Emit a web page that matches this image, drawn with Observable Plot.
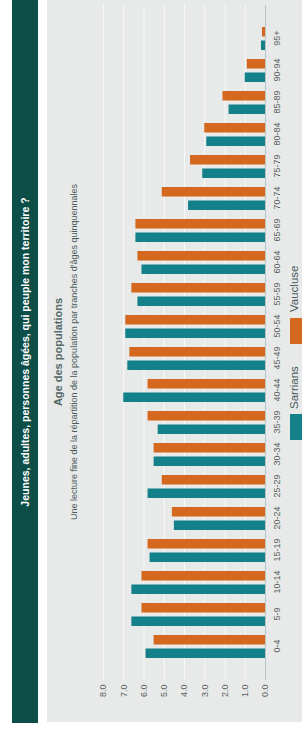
<!DOCTYPE html>
<html>
<head>
<meta charset="utf-8">
<script src="https://cdn.jsdelivr.net/npm/d3@7"></script>
<script src="https://cdn.jsdelivr.net/npm/@observablehq/plot@0.6"></script>
<style>
  html, body { margin: 0; padding: 0; background: #fff; overflow: hidden; width: 302px; height: 736px; }
  #page {
    position: absolute; left: 0; top: 0; width: 736px; height: 302px;
    transform-origin: 0 0; transform: translate(0px, 736px) rotate(-90deg);
    font-family: "Liberation Sans", Arial, sans-serif; background: #fff;
  }
  #band { position: absolute; left: 13px; top: 12px; width: 723px; height: 26px; background: #0e4e48; }
  #title { position: absolute; left: 184px; width: 400px; top: 12px; height: 26px; line-height: 26px;
    text-align: center; color: #fff; font-weight: bold; font-size: 10.5px; white-space: nowrap; }
  #panel { position: absolute; left: 14px; top: 47px; width: 722px; height: 255px; background: #e7eae8; }
  #chartTitle { position: absolute; left: 234px; width: 300px; top: 52px; text-align: center;
    font-size: 11px; font-weight: bold; color: #56676a; white-space: nowrap; }
  #subtitle { position: absolute; left: 134px; width: 500px; top: 69px; text-align: center;
    font-size: 9px; color: #4e5a5c; white-space: nowrap; }
  #chart { position: absolute; left: 0; top: 88px; width: 736px; }
  .sw { position: absolute; top: 290px; width: 26px; height: 12px; }
  .lt { position: absolute; top: 288px; font-size: 11.5px; color: #4e5a5c; white-space: nowrap; line-height: 13px; }
</style>
</head>
<body>
<div id="page">
  <div id="band"></div>
  <div id="title">Jeunes, adultes, personnes âgées, qui peuple mon territoire ?</div>
  <div id="panel"></div>
  <div id="chartTitle">Age des populations</div>
  <div id="subtitle">Une lecture fine de la répartition de la population par tranches d'âges quinquennales</div>
  <div id="chart"></div>
  <div id="legend"></div>
</div>
<script>
const ages = ["0-4","5-9","10-14","15-19","20-24","25-29","30-34","35-39","40-44","45-49",
              "50-54","55-59","60-64","65-69","70-74","75-79","80-84","85-89","90-94","95+"];
const series = ["Sarrians", "Vaucluse"];
const sarrians = [5.9, 6.6, 6.6, 5.7, 4.5, 5.8, 5.5, 5.3, 7.0, 6.8, 6.9, 6.3, 6.1, 6.4, 3.8, 3.1, 2.9, 1.8, 1.0, 0.2];
const vaucluse = [5.5, 6.1, 6.1, 5.8, 4.6, 5.1, 5.5, 5.8, 5.8, 6.7, 6.9, 6.6, 6.3, 6.4, 5.1, 3.7, 3.0, 2.1, 0.9, 0.15];
const valueTicks = [0, 1, 2, 3, 4, 5, 6, 7, 8];
const seriesColors = ["#13808a", "#d4681f"];

const rows = ages.flatMap((a, i) => [
  {age: a, series: series[0], value: sarrians[i]},
  {age: a, series: series[1], value: vaucluse[i]}
]);

const chart = Plot.plot({
  width: 736,
  height: 200,
  marginTop: 15,
  marginBottom: 23,
  marginLeft: 56,
  marginRight: 5,
  style: {background: "transparent", fontFamily: "'Liberation Sans', Arial, sans-serif", fontSize: "9px", color: "#5a5f60", maxWidth: "none"},
  x: {domain: ages, paddingInner: 0.27, paddingOuter: 0.395, label: null, tickSize: 0, tickPadding: 8},
  y: {domain: [0, 8], ticks: valueTicks, tickFormat: d => d.toFixed(1), label: null, tickSize: 0, tickPadding: 5},
  color: {domain: series, range: seriesColors},
  marks: [
    Plot.gridY(valueTicks, {stroke: "#ffffff", strokeOpacity: 0.7}),
    Plot.barY(rows, {filter: d => d.series === series[0], x: "age", y: "value", fill: "series", insetRight: 13.5}),
    Plot.barY(rows, {filter: d => d.series === series[1], x: "age", y: "value", fill: "series", insetLeft: 13.5}),
    Plot.ruleY([0], {stroke: "#b7c3c6"})
  ]
});
document.getElementById("chart").appendChild(chart);

const legend = document.getElementById("legend");
const legendPos = [[296, 327], [392, 424]];
series.forEach((s, i) => {
  const sw = document.createElement("div");
  sw.className = "sw";
  sw.style.left = legendPos[i][0] + "px";
  sw.style.background = chart.scale("color").apply(s);
  legend.appendChild(sw);
  const t = document.createElement("div");
  t.className = "lt";
  t.style.left = legendPos[i][1] + "px";
  t.textContent = s;
  legend.appendChild(t);
});
</script>
</body>
</html>
